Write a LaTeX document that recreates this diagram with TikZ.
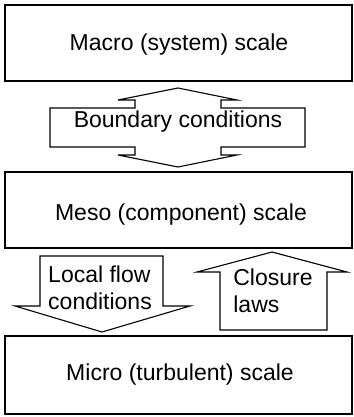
\documentclass[tikz,border=0pt]{standalone}
\usepackage{fontspec}
\setmainfont{Liberation Sans}
\usepackage{tikz}
\usetikzlibrary{positioning}

\begin{document}
\begin{tikzpicture}[x=1pt,y=-1pt,line width=1.1pt,
  every node/.style={font=\fontsize{23}{27}\selectfont,inner sep=0pt},
  scalebox/.style={draw,minimum width=347pt,minimum height=76pt}]
\useasboundingbox (0,0) rectangle (353,417);
  \node[scalebox] (macro) at (178.5,43){};
  \node[scalebox] (meso) at (178.5,210){};
  \node[scalebox,minimum height=78pt] (micro) at (178.5,375){};
  \node[anchor=base] (macrotxt) at (179,51){Macro (system) scale};
  \node[anchor=base] (mesotxt) at (181,220){Meso (component) scale};
  \node[anchor=base] (microtxt) at (180,380){Micro (turbulent) scale};
%double arrow between macro and meso
  \draw[line join=miter](50,108)--(135,108)--(135,100)--(118,100)--(178,88)--(237,100)--(221,100)--(221,108)--(305,108)
    --(305,147)--(221,147)--(221,155)--(237,155)--(178,167)--(118,155)--(135,155)--(135,147)--(50,147)--cycle;
  \node[anchor=base] (bc) at (178,127){Boundary conditions};
%down arrow
  \draw(40,256)--(163,256)--(163,306)--(190,306)--(102,332)--(15,306)--(40,306)--cycle;
  \node[align=left] (lfc) at (100,288){Local flow\\conditions};
%up arrow
  \draw(220,330)--(220,272)--(197,272)--(272,252)--(347,272)--(327,272)--(327,330)--cycle;
  \node[align=left] (cl) at (273,291){Closure\\laws};
\end{tikzpicture}
\end{document}
